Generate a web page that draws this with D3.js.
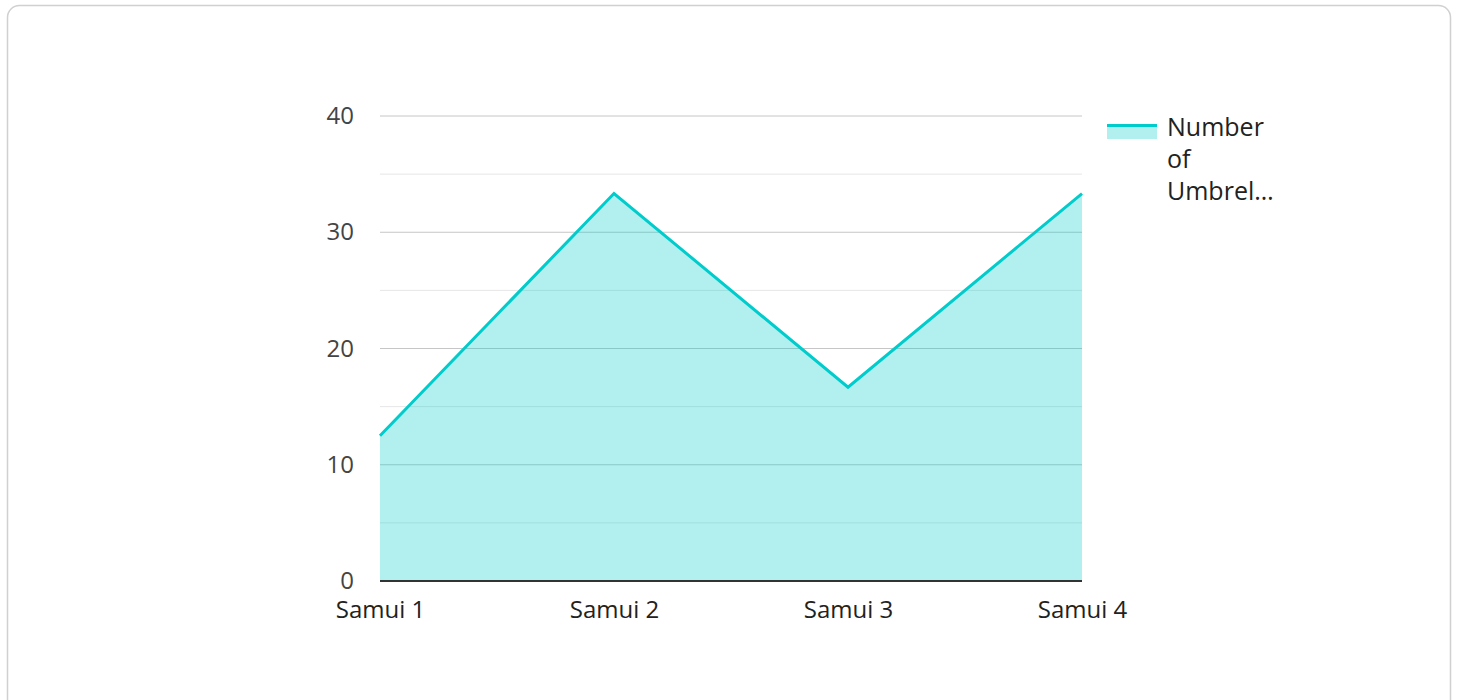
<!DOCTYPE html>
<html><head><meta charset="utf-8">
<script src="https://cdn.jsdelivr.net/npm/d3@7"></script>
<style>
html,body{margin:0;padding:0;background:#fff;}
svg{display:block;font-family:"Open Sans","Noto Sans",sans-serif;}
</style></head>
<body>
<svg id="chart" width="1458" height="700"></svg>
<script>
const categories = ["Samui 1", "Samui 2", "Samui 3", "Samui 4"];
const values = [12.5, 33.33, 16.67, 33.33];
const seriesName = "Number of Umbrellas";
const legendLines = ["Number", "of", "Umbrel\u2026"];
const majorTicks = [0, 10, 20, 30, 40];
const minorTicks = [5, 15, 25, 35];

const svg = d3.select("#chart");
const lineColor = "#00cccc";

// card
svg.append("rect").attr("x", 7.5).attr("y", 5.5).attr("width", 1443).attr("height", 710)
  .attr("rx", 12).attr("fill", "#fff").attr("stroke", "#d0d0d0").attr("stroke-width", 1.5);

const x = d3.scalePoint().domain(categories).range([380, 1082]).padding(0);
const y = d3.scaleLinear().domain([0, 40]).range([581, 116]);

const g = svg.append("g");

// minor grid
g.selectAll(".minor").data(minorTicks).join("line")
  .attr("x1", 380).attr("x2", 1082)
  .attr("y1", d => y(d)).attr("y2", d => y(d))
  .attr("stroke", "#e6e6e6").attr("stroke-width", 1);
// major grid
g.selectAll(".major").data(majorTicks.filter(d => d > 0)).join("line")
  .attr("x1", 380).attr("x2", 1082)
  .attr("y1", d => y(d)).attr("y2", d => y(d))
  .attr("stroke", "#c6c6c6").attr("stroke-width", 1);

const data = categories.map((c, i) => ({c, v: values[i]}));

g.append("path").datum(data)
  .attr("d", d3.area().x(d => x(d.c)).y0(y(0)).y1(d => y(d.v)))
  .attr("fill", lineColor).attr("fill-opacity", 0.3);

g.append("path").datum(data)
  .attr("d", d3.line().x(d => x(d.c)).y(d => y(d.v)))
  .attr("fill", "none").attr("stroke", lineColor).attr("stroke-width", 3)
  .attr("stroke-linejoin", "miter");

// baseline
g.append("line").attr("x1", 380).attr("x2", 1082).attr("y1", y(0)).attr("y2", y(0))
  .attr("stroke", "#333").attr("stroke-width", 2);

// y labels
const yAxis = d3.axisLeft(y).tickValues(majorTicks).tickSize(0).tickPadding(0);
const ya = svg.append("g").attr("transform", "translate(354,0)").call(yAxis);
ya.select(".domain").remove();
ya.selectAll("text").attr("font-size", 24).attr("fill", "#444")
  .attr("font-family", "'Open Sans','Noto Sans',sans-serif");

// x labels
const xAxis = d3.axisBottom(x).tickSize(0).tickPadding(0);
const xa = svg.append("g").attr("transform", "translate(0,601)").call(xAxis);
xa.select(".domain").remove();
xa.selectAll("text").attr("font-size", 24).attr("fill", "#222")
  .attr("font-family", "'Open Sans','Noto Sans',sans-serif");

// legend
const lg = svg.append("g").attr("transform", "translate(1107,124)");
lg.append("rect").attr("x", 0).attr("y", 0).attr("width", 50).attr("height", 15)
  .attr("fill", lineColor).attr("fill-opacity", 0.3);
lg.append("line").attr("x1", 0).attr("x2", 50).attr("y1", 1.5).attr("y2", 1.5)
  .attr("stroke", lineColor).attr("stroke-width", 3);
lg.append("title").text(seriesName);
lg.selectAll("text.leg").data(legendLines).join("text").attr("class", "leg")
  .attr("x", 60).attr("y", (d, i) => 12 + i * 32)
  .attr("font-size", 25).attr("fill", "#222")
  .text(d => d);
</script>
</body></html>
